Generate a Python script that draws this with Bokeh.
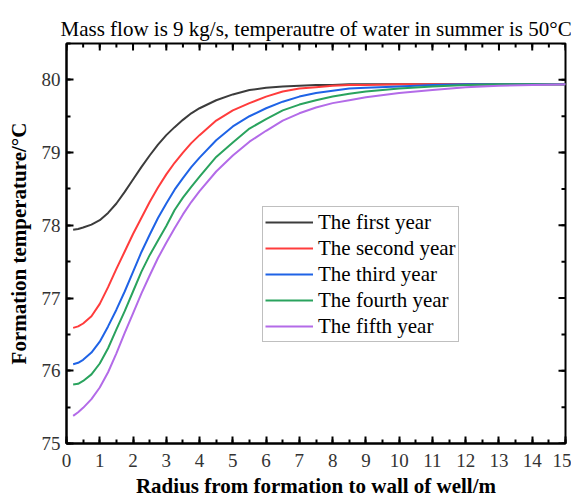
import math
from bokeh.plotting import figure
from bokeh.models import Legend, LegendItem, FixedTicker, Range1d, ColumnDataSource
from bokeh.embed import file_html
from bokeh.resources import INLINE

# ---------------- data ----------------
radius = [0.2, 0.35, 0.5, 0.75, 1.0, 1.25, 1.5, 1.75, 2.0, 2.25, 2.5, 2.75, 3.0, 3.25, 3.5,
          3.75, 4.0, 4.5, 5.0, 5.5, 6.0, 6.5, 7.0, 7.5, 8.0, 8.5, 9.0, 10.0, 11.0,
          12.0, 13.0, 14.0, 15.0]

year1 = [77.94, 77.95, 77.97, 78.01, 78.07, 78.17, 78.30, 78.46, 78.63, 78.80, 78.96, 79.11, 79.24,
         79.35, 79.45, 79.54, 79.61, 79.72, 79.80, 79.86, 79.89, 79.91, 79.92, 79.93, 79.93,
         79.94, 79.94, 79.94, 79.94, 79.94, 79.94, 79.94, 79.94]
year2 = [76.59, 76.61, 76.65, 76.75, 76.92, 77.15, 77.40, 77.64, 77.88, 78.10, 78.32, 78.52, 78.70,
         78.86, 79.00, 79.13, 79.24, 79.44, 79.58, 79.68, 79.77, 79.84, 79.88, 79.90, 79.92,
         79.93, 79.93, 79.94, 79.94, 79.94, 79.94, 79.94, 79.94]
year3 = [76.09, 76.11, 76.15, 76.25, 76.40, 76.61, 76.84, 77.09, 77.36, 77.63, 77.87, 78.10, 78.30,
         78.49, 78.65, 78.80, 78.93, 79.17, 79.36, 79.50, 79.61, 79.70, 79.77, 79.82, 79.85,
         79.88, 79.89, 79.91, 79.93, 79.94, 79.94, 79.94, 79.94]
year4 = [75.81, 75.82, 75.86, 75.95, 76.10, 76.31, 76.57, 76.82, 77.09, 77.36, 77.59, 77.79, 77.99,
         78.21, 78.38, 78.53, 78.67, 78.94, 79.14, 79.33, 79.46, 79.58, 79.66, 79.72, 79.77,
         79.81, 79.84, 79.88, 79.91, 79.93, 79.94, 79.94, 79.94]
year5 = [75.38, 75.43, 75.49, 75.61, 75.77, 75.98, 76.24, 76.52, 76.79, 77.06, 77.31, 77.55, 77.76,
         77.96, 78.15, 78.32, 78.47, 78.74, 78.96, 79.15, 79.30, 79.44, 79.54, 79.62, 79.68,
         79.72, 79.76, 79.82, 79.86, 79.90, 79.92, 79.93, 79.94]

series_names = ["The first year", "The second year", "The third year",
                "The fourth year", "The fifth year"]
series_values = [year1, year2, year3, year4, year5]

x_ticks = list(range(0, 16))
x_minor = [i * 0.5 for i in range(0, 31)]
y_ticks = [75, 76, 77, 78, 79, 80]
y_minor = [75 + i * 0.5 for i in range(0, 12)]
x_lim = (0, 15)
y_lim = (75, 80.5)

title_text = "Mass flow is 9 kg/s, temperautre of water in summer is 50\u00b0C"
x_label = "Radius from formation to wall of well/m"
y_label = "Formation temperature/\u00b0C"

# ---------------- styles ----------------
colors = ["#3c3c3c", "#ff3c3c", "#1f63e6", "#2aa35e", "#b36be8"]
SERIF = "Liberation Serif"

p = figure(width=571, height=500, output_backend="svg", toolbar_location=None,
           x_range=Range1d(*x_lim), y_range=Range1d(*y_lim),
           min_border_left=66, min_border_right=6, min_border_top=43, min_border_bottom=10)

p.title.text = title_text
p.title.align = "left"
p.title.offset = -6
p.title.text_font = SERIF
p.title.text_font_style = "normal"
p.title.text_font_size = "21px"
p.title.text_color = "black"
p.title.standoff = 6

p.grid.visible = False
p.outline_line_color = "black"
p.outline_line_width = 2
p.background_fill_color = "white"
p.border_fill_color = "white"


def style_axis(ax, ticks, minor):
    ax.ticker = FixedTicker(ticks=ticks, minor_ticks=minor)
    ax.axis_line_color = "black"
    ax.axis_line_width = 2
    ax.major_tick_line_color = "black"
    ax.major_tick_line_width = 2
    ax.minor_tick_line_color = "black"
    ax.minor_tick_line_width = 2
    ax.major_tick_in = 7
    ax.major_tick_out = 0
    ax.minor_tick_in = 4
    ax.minor_tick_out = 0
    ax.major_label_text_font = SERIF
    ax.major_label_text_font_size = "19px"
    ax.major_label_text_color = "#333333"
    ax.axis_label_text_font = SERIF
    ax.axis_label_text_font_style = "bold"
    ax.axis_label_text_font_size = "21px"
    ax.axis_label_text_color = "black"


style_axis(p.xaxis[0], x_ticks, x_minor)
style_axis(p.yaxis[0], y_ticks, y_minor)
p.xaxis[0].axis_label = x_label
p.yaxis[0].axis_label = y_label
p.xaxis[0].major_label_standoff = 10
p.xaxis[0].axis_label_standoff = 4
p.yaxis[0].major_label_standoff = 6
p.yaxis[0].axis_label_standoff = 8

# inward ticks on the top and right edges of the frame
tick_col = "black"
p.ray(x=x_ticks, y=[y_lim[1]] * len(x_ticks), length=7, length_units="screen",
      angle=-math.pi / 2, line_color=tick_col, line_width=2)
p.ray(x=x_minor, y=[y_lim[1]] * len(x_minor), length=4, length_units="screen",
      angle=-math.pi / 2, line_color=tick_col, line_width=2)
p.ray(x=[x_lim[1]] * len(y_ticks), y=y_ticks, length=7, length_units="screen",
      angle=math.pi, line_color=tick_col, line_width=2)
p.ray(x=[x_lim[1]] * len(y_minor), y=y_minor, length=4, length_units="screen",
      angle=math.pi, line_color=tick_col, line_width=2)

items = []
for name, vals, col in zip(series_names, series_values, colors):
    src = ColumnDataSource(dict(x=radius, y=vals))
    r = p.line("x", "y", source=src, line_color=col, line_width=2, line_join="round")
    items.append(LegendItem(label=name, renderers=[r]))

legend = Legend(items=items, location=(196, 101))
legend.label_text_font = SERIF
legend.label_text_font_size = "21px"
legend.label_text_color = "black"
legend.glyph_width = 48
legend.glyph_height = 26
legend.label_height = 26
legend.label_standoff = 5
legend.spacing = 0
legend.padding = 2
legend.margin = 0
legend.border_line_color = "#808080"
legend.border_line_width = 1
legend.background_fill_color = "white"
legend.background_fill_alpha = 1
p.add_layout(legend)

open("out.html", "w").write(file_html(p, INLINE))
